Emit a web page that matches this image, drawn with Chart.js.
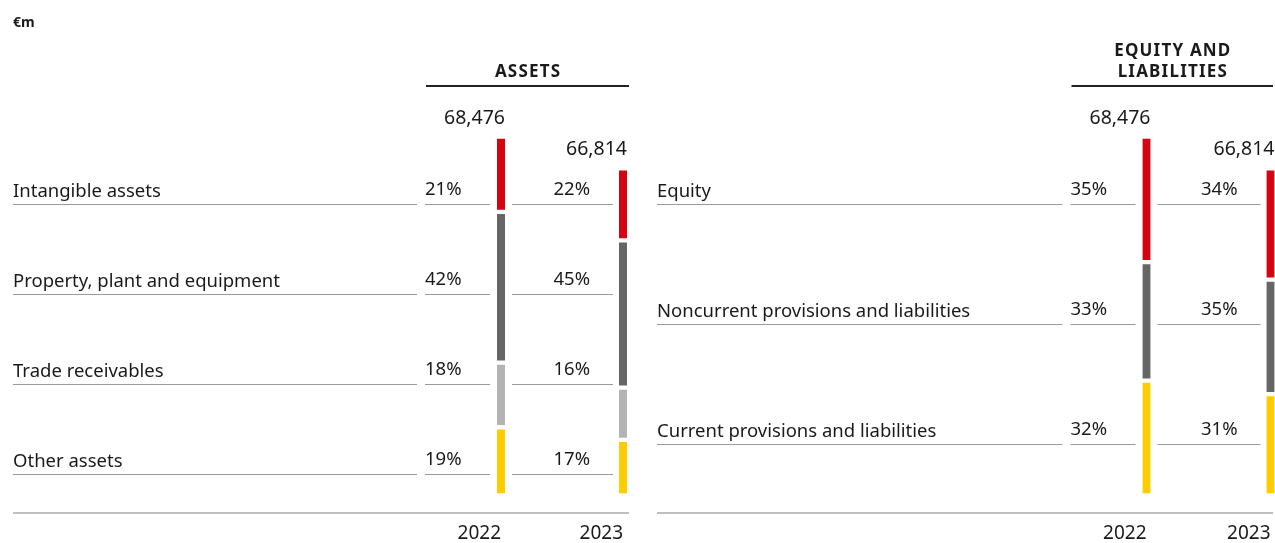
<!DOCTYPE html>
<html>
<head>
<meta charset="utf-8">
<title>Balance sheet structure</title>
<script src="https://cdn.jsdelivr.net/npm/chart.js@4.4.0/dist/chart.umd.min.js"></script>
<style>
  html, body { margin: 0; padding: 0; background: #fff; }
  #wrap { position: relative; width: 1275px; height: 543px; overflow: hidden; }
  canvas { position: absolute; top: 0; }
  #assetsChart { left: 0; }
  #equityChart { left: 644px; }
</style>
</head>
<body>
<div id="wrap">
  <canvas id="assetsChart" width="640" height="572"></canvas>
  <canvas id="equityChart" width="631" height="572"></canvas>
</div>
<script>
const years = ['2022', '2023'];
const totals = [68476, 66814];

const assetCategories = ['Intangible assets', 'Property, plant and equipment', 'Trade receivables', 'Other assets'];
const assetShares2022 = [21, 42, 18, 19];
const assetShares2023 = [22, 45, 16, 17];
const assetColors = ['#d40511', '#666666', '#b3b3b3', '#ffcc00'];

const equityCategories = ['Equity', 'Noncurrent provisions and liabilities', 'Current provisions and liabilities'];
const equityShares2022 = [35, 33, 32];
const equityShares2023 = [34, 35, 31];
const equityColors = ['#d40511', '#666666', '#ffcc00'];

// the 2023 bar is drawn shorter than the 2022 one in the original
const barHeightRatio = [1, 0.911];

const FONT = '"Noto Sans", "Open Sans", sans-serif';
const TEXT = '#1a1a1a';
const RULE = '#9a9a9a';

function buildDatasets(categories, shares, colors) {
    const datasets = [];
    // stacks grow from the bottom, so the first category is pushed last
    for (let i = categories.length - 1; i >= 0; i--) {
        shares.forEach((yearShares, y) => {
            datasets.push({
                label: categories[i] + ' ' + years[y],
                data: years.map((_, k) => k === y ? yearShares[i] : null),
                yAxisID: 'y' + y,
                backgroundColor: colors[i],
                borderColor: '#ffffff',
                borderWidth: { top: 2.5, bottom: 2.5, left: 0, right: 0 },
                borderSkipped: false,
                barThickness: 8,
                skipNull: true,
                clip: false
            });
        });
    }
    return datasets;
}

function crisp(v) {
    return Math.round(v) + 0.5;
}

const panelPlugin = {
    id: 'panel',
    afterDraw(chart, args, opts) {
        const ctx = chart.ctx;
        const xs = chart.scales.x;
        const c0 = xs.getPixelForValue(0);
        const c1 = xs.getPixelForValue(1);
        const left = opts.left;
        const right = Math.min(c1 + 6, chart.width - 2);
        const cats = opts.categories;

        ctx.save();
        ctx.fillStyle = TEXT;
        ctx.textBaseline = 'alphabetic';

        // unit
        if (opts.unit) {
            ctx.font = 'bold 14px ' + FONT;
            ctx.textAlign = 'left';
            ctx.fillText(opts.unit, left, 27);
        }

        // header and its rule
        ctx.font = 'bold 17px ' + FONT;
        ctx.textAlign = 'center';
        ctx.letterSpacing = '1.2px';
        const hx = ((c0 - 75) + right) / 2;
        opts.header.forEach((line, i) => {
            ctx.fillText(line, hx + 0.6, 77 - (opts.header.length - 1 - i) * 21);
        });
        ctx.letterSpacing = '0px';
        ctx.strokeStyle = '#222222';
        ctx.lineWidth = 2;
        ctx.beginPath();
        ctx.moveTo(c0 - 75, 86);
        ctx.lineTo(right, 86);
        ctx.stroke();

        // totals above the bars
        ctx.font = '19.5px ' + FONT;
        ctx.textAlign = 'right';
        totals.forEach((t, k) => {
            const sum = opts.shares[k].reduce((a, b) => a + b, 0);
            const top = chart.scales['y' + k].getPixelForValue(sum);
            ctx.fillText(t.toLocaleString('en-US'), xs.getPixelForValue(k) + 4, top - 13);
        });

        // category rows
        const step = 360 / cats.length;
        ctx.strokeStyle = RULE;
        ctx.lineWidth = 1;
        cats.forEach((cat, i) => {
            const ly = crisp(204 + i * step);
            ctx.font = '18.5px ' + FONT;
            ctx.textAlign = 'left';
            ctx.fillText(cat, left, ly - 8);
            ctx.fillText(opts.shares[0][i] + '%', c0 - 76, ly - 10);
            ctx.textAlign = 'right';
            ctx.fillText(opts.shares[1][i] + '%', c1 - 33, ly - 10);

            ctx.beginPath();
            ctx.moveTo(left, ly);
            ctx.lineTo(c0 - 84, ly);
            ctx.moveTo(c0 - 76, ly);
            ctx.lineTo(c0 - 11, ly);
            ctx.moveTo(c0 + 11, ly);
            ctx.lineTo(c1 - 10, ly);
            ctx.stroke();
        });

        // base rule
        ctx.strokeStyle = '#aaaaaa';
        ctx.lineWidth = 1.5;
        ctx.beginPath();
        ctx.moveTo(left, 513);
        ctx.lineTo(right, 513);
        ctx.stroke();

        ctx.restore();
    }
};

function makeChart(canvasId, categories, shares, colors, padLeft, padRight, header, unit) {
    const ctx = document.getElementById(canvasId).getContext('2d');
    return new Chart(ctx, {
        type: 'bar',
        data: {
            labels: years,
            datasets: buildDatasets(categories, shares, colors)
        },
        options: {
            responsive: false,
            animation: false,
            events: [],
            layout: {
                padding: { top: 136.5, bottom: 0.5, left: padLeft, right: padRight }
            },
            scales: {
                x: {
                    stacked: true,
                    offset: false,
                    grid: { display: false, drawTicks: false },
                    border: { display: false },
                    ticks: {
                        align: 'end',
                        padding: 0,
                        maxRotation: 0,
                        autoSkip: false,
                        color: TEXT,
                        font: { family: FONT, size: 19, lineHeight: '76px' }
                    }
                },
                y0: {
                    stacked: true,
                    display: false,
                    min: 0,
                    max: 100 / barHeightRatio[0]
                },
                y1: {
                    stacked: true,
                    display: false,
                    min: 0,
                    max: 100 / barHeightRatio[1]
                }
            },
            plugins: {
                legend: { display: false },
                tooltip: { enabled: false },
                panel: {
                    left: 13,
                    categories: categories,
                    shares: shares,
                    header: header,
                    unit: unit
                }
            }
        },
        plugins: [panelPlugin]
    });
}

makeChart('assetsChart', assetCategories, [assetShares2022, assetShares2023], assetColors,
    501, 17, ['ASSETS'], '€m');
makeChart('equityChart', equityCategories, [equityShares2022, equityShares2023], equityColors,
    502.5, 4.5, ['EQUITY AND', 'LIABILITIES'], null);
</script>
</body>
</html>
